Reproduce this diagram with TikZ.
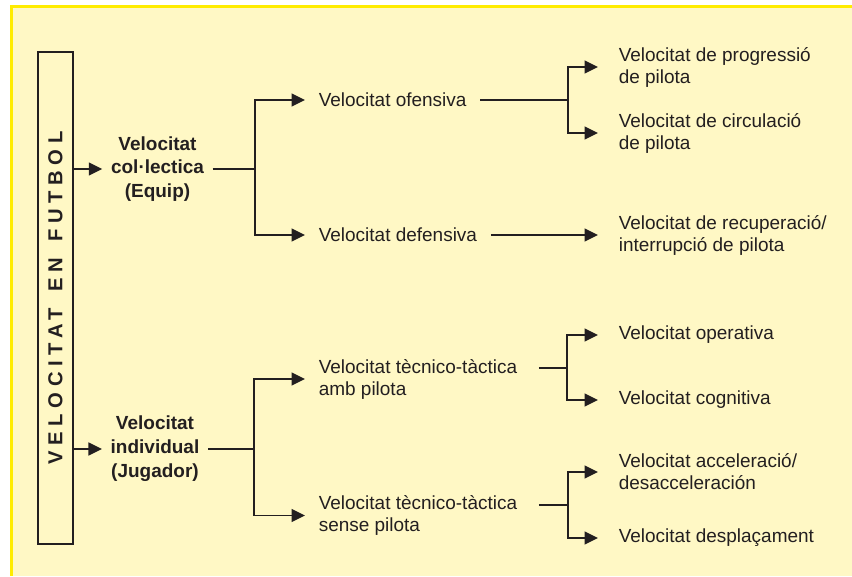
\documentclass[tikz,border=0pt]{standalone}
\usepackage{fontspec}
\setmainfont{Liberation Sans}
\usetikzlibrary{arrows.meta}
\definecolor{fonsgroc}{RGB}{255,248,197}
\definecolor{voragroga}{RGB}{255,236,0}
\definecolor{tinta}{RGB}{35,31,32}

\begin{document}
\begin{tikzpicture}[line width=0.9pt, draw=tinta,
  every node/.style={font=\fontsize{10.8}{12.5}\selectfont, text=tinta},
  nivellu/.style={font=\bfseries\fontsize{10.8}{13.6}\selectfont, align=center, inner xsep=0.16cm},
  nivelld/.style={anchor=west, align=left, inner xsep=0.26cm},
  nivellt/.style={anchor=west, align=left, inner xsep=0.4cm},
  fletxa/.style={-{Triangle[length=0.27cm,width=0.26cm]}}]
  \useasboundingbox (0,0) rectangle (17.04,-11.52);

  % Fons
  \fill[fonsgroc] (0.23,-0.13) rectangle (17.04,-11.52);
  \draw[voragroga, line width=1.2pt] (0.23,-11.52) -- (0.23,-0.13) -- (17.04,-0.13);

  % Caixa vertical
  \node[draw=tinta, line width=0.8pt, rotate=90, minimum width=9.84cm, minimum height=0.70cm,
    font=\bfseries\fontsize{11.5}{12}\selectfont\addfontfeature{LetterSpace=28}]
    (titol) at (1.11,-5.96) {VELOCITAT\hspace{0.8em}EN\hspace{0.8em}FUTBOL};

  % Primer nivell
  \node[nivellu] (col) at (3.15,-3.38) {Velocitat\\col·lectica\\(Equip)};
  \node[nivellu] (ind) at (3.10,-8.98) {Velocitat\\individual\\(Jugador)};
  \draw[fletxa] (titol.south |- col) -- (col.west);
  \draw[fletxa] (titol.south |- ind) -- (ind.west);

  % Segon nivell
  \node[nivelld] (ofe) at (6.10,-2.00) {Velocitat ofensiva};
  \node[nivelld] (def) at (6.10,-4.70) {Velocitat defensiva};
  \node[nivelld] (amb) at (6.10,-7.58) {Velocitat tècnico-tàctica\\amb pilota};
  \node[nivelld] (sen) at (6.10,-10.31) {Velocitat tècnico-tàctica\\sense pilota};

  \coordinate (bcol) at (5.10,-3.38);
  \coordinate (bind) at (5.08,-8.98);
  \draw (col.east) -- (bcol);
  \draw[fletxa] (bcol) |- (ofe.west);
  \draw[fletxa] (bcol) |- (def.west);
  \draw (ind.east) -- (bind);
  \draw[fletxa] (bind) |- (amb.west);
  \draw[fletxa] (bind) |- (sen.west);

  % Tercer nivell
  \node[nivellt] (pro) at (11.96,-1.34) {Velocitat de progressió\\de pilota};
  \node[nivellt] (cir) at (11.96,-2.66) {Velocitat de circulació\\de pilota};
  \node[nivellt] (rec) at (11.96,-4.70) {Velocitat de recuperació/\\interrupció de pilota};
  \node[nivellt] (ope) at (11.96,-6.70) {Velocitat operativa};
  \node[nivellt] (cog) at (11.96,-8.00) {Velocitat cognitiva};
  \node[nivellt] (acc) at (11.96,-9.44) {Velocitat acceleració/\\desacceleración};
  \node[nivellt] (des) at (11.96,-10.76) {Velocitat desplaçament};

  \coordinate (bofe) at (11.36,-2.00);
  \coordinate (bamb) at (11.34,-7.36);
  \coordinate (bsen) at (11.36,-10.10);
  \draw (ofe.east) -- (bofe);
  \draw[fletxa] (bofe) |- (pro.west);
  \draw[fletxa] (bofe) |- (cir.west);
  \draw[fletxa] (def.east) -- (rec.west);
  \draw[shorten <=0.16cm] (amb.east |- bamb) -- (bamb);
  \draw[fletxa] (bamb) |- (ope.west);
  \draw[fletxa] (bamb) |- (cog.west);
  \draw[shorten <=0.16cm] (sen.east |- bsen) -- (bsen);
  \draw[fletxa] (bsen) |- (acc.west);
  \draw[fletxa] (bsen) |- (des.west);
\end{tikzpicture}
\end{document}
